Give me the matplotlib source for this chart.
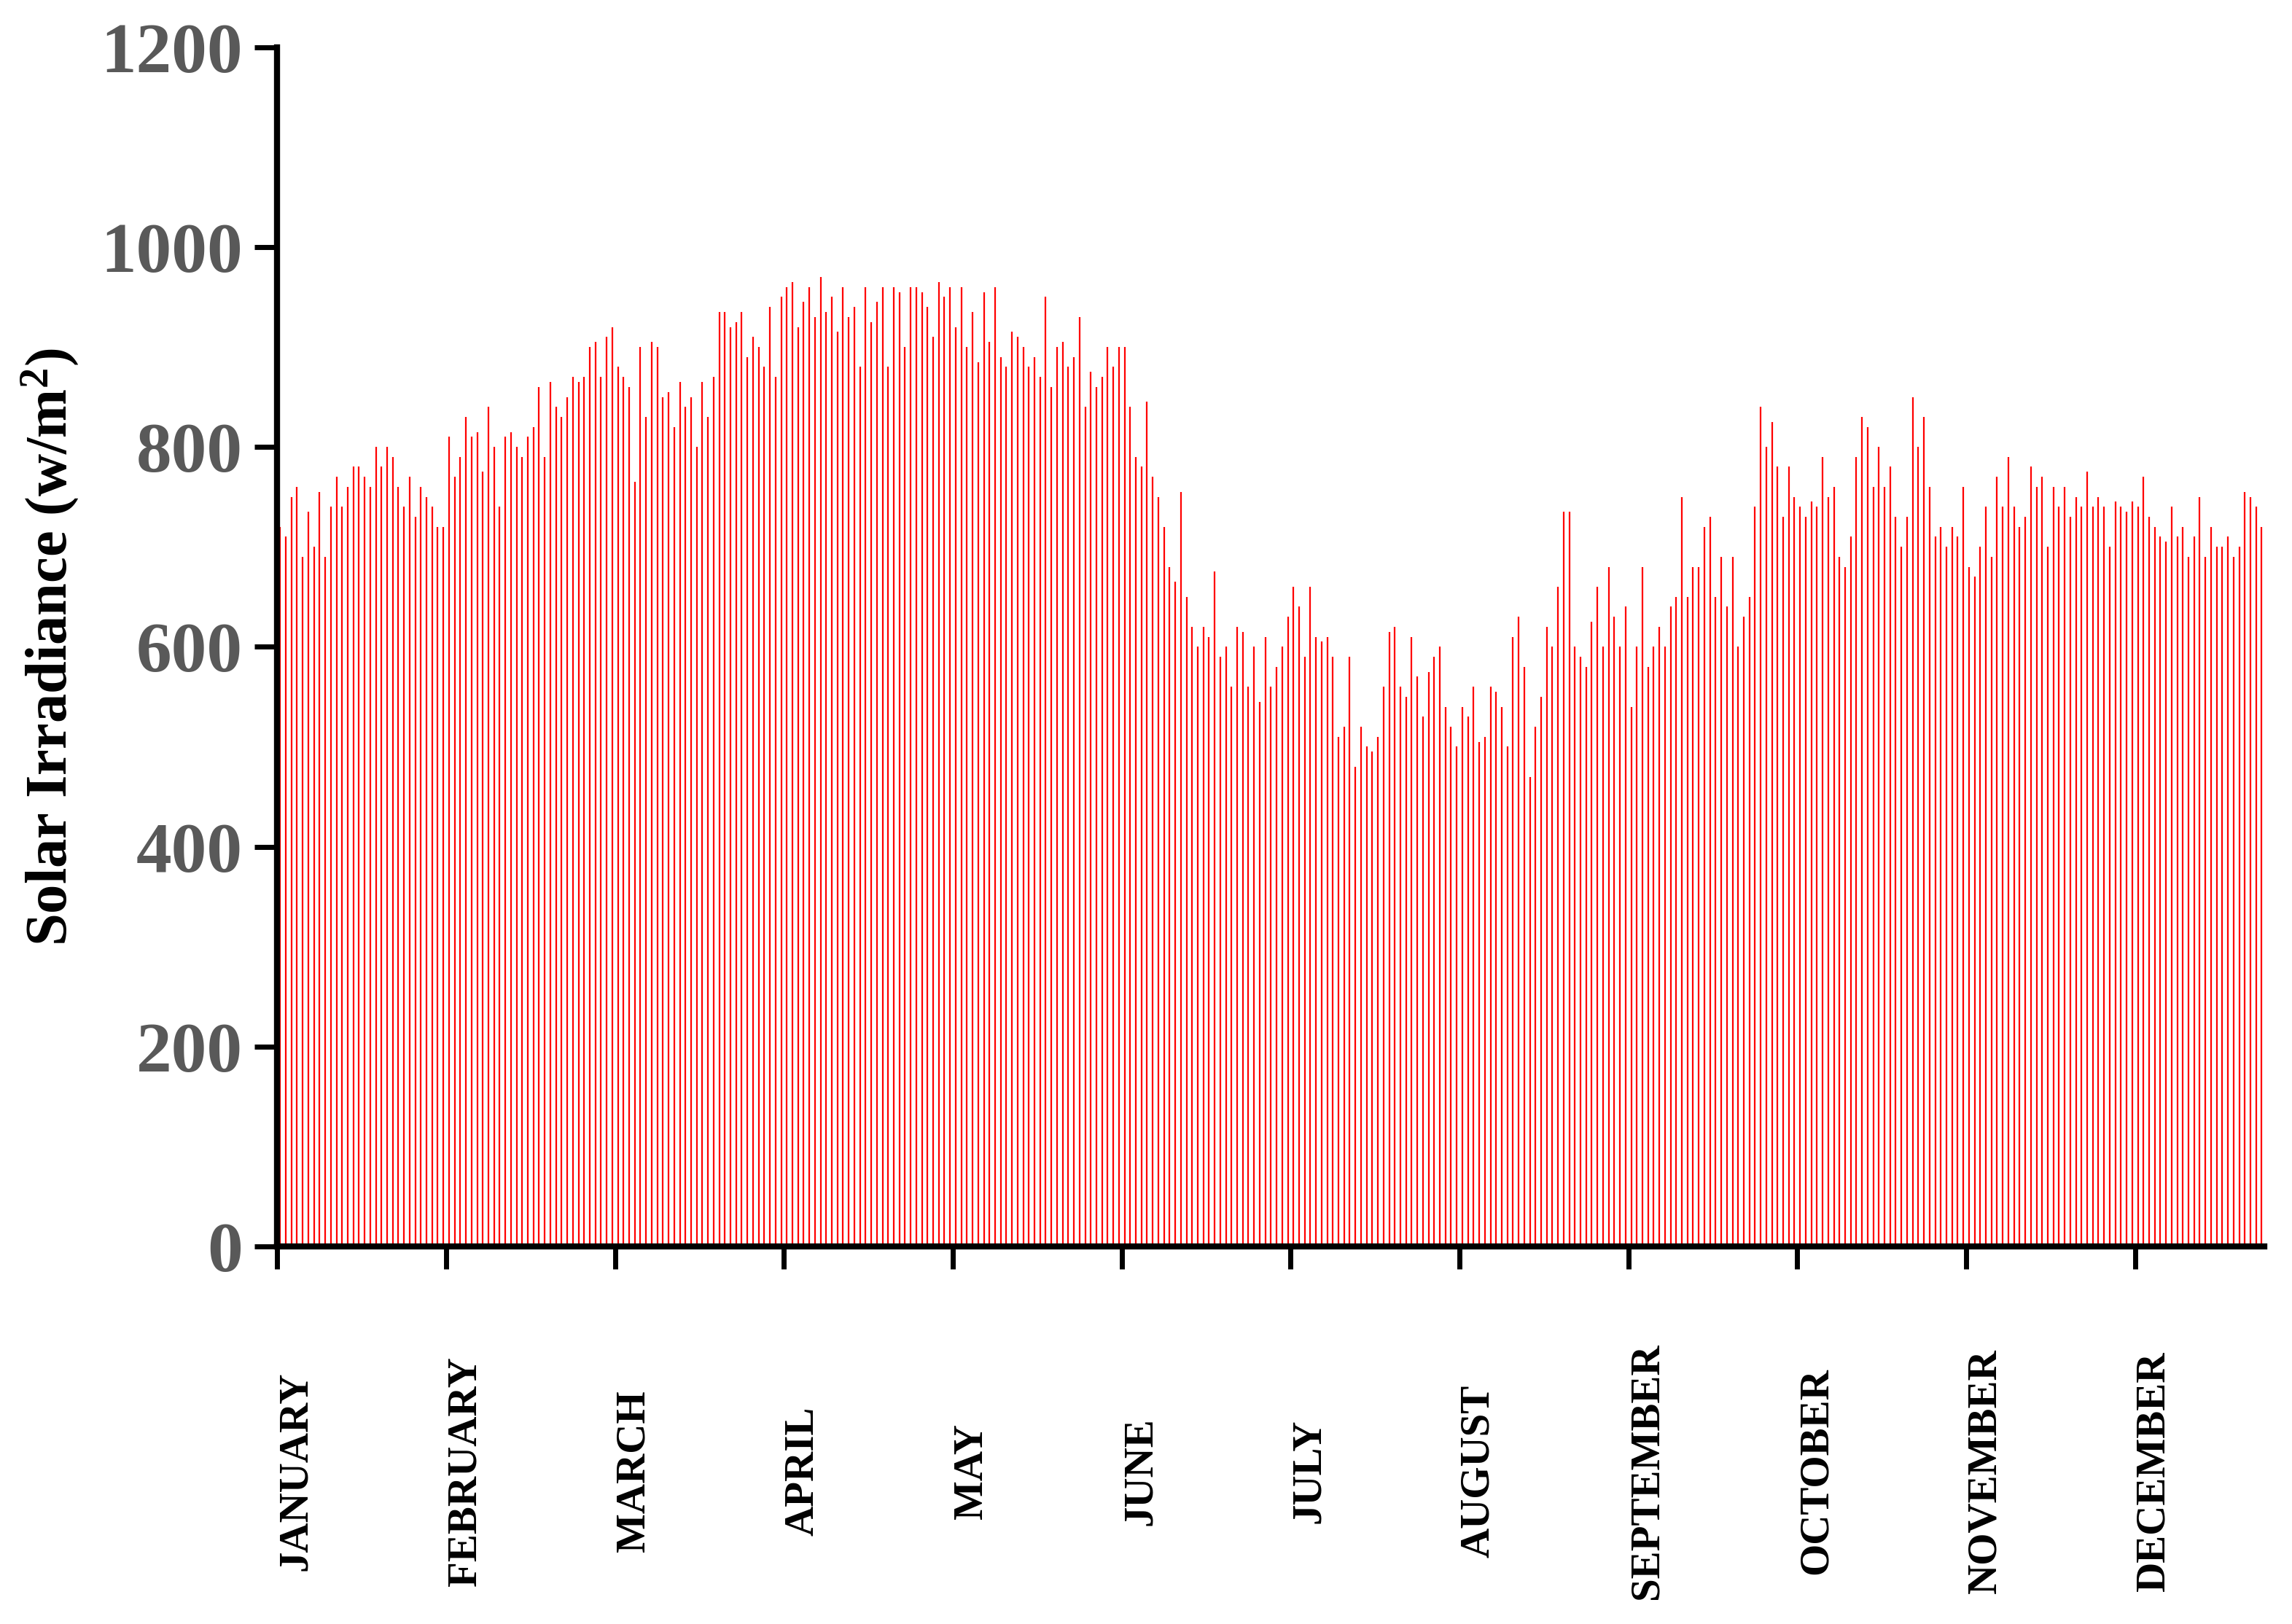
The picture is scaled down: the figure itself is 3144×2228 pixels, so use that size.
import matplotlib
matplotlib.use("Agg")
import matplotlib.pyplot as plt
import numpy as np

plt.rcParams['font.family'] = ['Liberation Serif', 'DejaVu Serif']
plt.rcParams['mathtext.fontset'] = 'custom'
plt.rcParams['mathtext.rm'] = 'Liberation Serif'
plt.rcParams['mathtext.bf'] = 'Liberation Serif:bold'

months = ["JANUARY","FEBRUARY","MARCH","APRIL","MAY","JUNE","JULY","AUGUST",
          "SEPTEMBER","OCTOBER","NOVEMBER","DECEMBER"]
jan = [720,710,750,760,690,735,700,755,690,740,770,740,760,780,780,770,760,800,780,800,790,760,740,770,730,760,750,740,720,720]
feb = [810,770,790,830,810,815,775,840,800,740,810,815,800,790,810,820,860,790,865,840,830,850,870,865,870,900,905,870,910,920]
mar = [880,870,860,765,900,830,905,900,850,855,820,865,840,850,800,865,830,870,935,935,920,925,935,890,910,900,880,940,870,950]
apr = [960,965,920,945,960,930,970,935,950,915,960,930,940,880,960,925,945,960,880,960,955,900,960,960,955,940,910,965,950,960]
may = [920,960,900,935,885,955,905,960,890,880,915,910,900,880,890,870,950,860,900,905,880,890,930,840,875,860,870,900,880,900]
jun = [900,840,790,780,845,770,750,720,680,665,755,650,620,600,620,610,675,590,600,560,620,615,560,600,545,610,560,580,600,630]
jul = [660,640,590,660,610,605,610,590,510,520,590,480,520,500,495,510,560,615,620,560,550,610,570,530,575,590,600,540,520,500]
aug = [540,530,560,505,510,560,555,540,500,610,630,580,470,520,550,620,600,660,735,735,600,590,580,625,660,600,680,630,600,640]
sep = [540,600,680,580,600,620,600,640,650,750,650,680,680,720,730,650,690,640,690,600,630,650,740,840,800,825,780,730,780,750]
oct_ = [740,730,745,740,790,750,760,690,680,710,790,830,820,760,800,760,780,730,700,730,850,800,830,760,710,720,700,720,710,760]
nov = [680,670,700,740,690,770,740,790,740,720,730,780,760,770,700,760,740,760,730,750,740,775,740,750,740,700,745,740,735,745]
dec = [740,770,730,720,710,705,740,710,720,690,710,750,690,720,700,700,710,690,700,755,750,740,720,735,740,700,730,690,690,690]
values = jan+feb+mar+apr+may+jun+jul+aug+sep+oct_+nov+dec
days = np.arange(len(values)) + 0.5
yticks = [0,200,400,600,800,1000,1200]

fig = plt.figure(figsize=(31.44,22.28), dpi=100)
ax = fig.add_axes([0.121,0.2325,0.867,0.7385])
ax.vlines(days, 0, values, colors="#ff0000", linewidth=1.6)
ax.set_xlim(0,353)
ax.set_ylim(0,1200)
ax.set_xticks([30*i for i in range(12)])
ax.set_xticklabels(months, rotation=90, va="center", ha="left",
                   fontsize=41, fontweight="bold")
ax.set_yticks(yticks)
ax.set_yticklabels([str(v) for v in yticks], fontsize=70, fontweight="bold",
                   color="#595959")
ax.tick_params(axis="x", length=22, width=5, pad=200, direction="out")
ax.tick_params(axis="y", length=22, width=5, pad=12, direction="out")
for s in ["top","right"]:
    ax.spines[s].set_visible(False)
ax.spines["left"].set_linewidth(6)
ax.spines["bottom"].set_linewidth(6)
ax.set_ylabel("Solar Irradiance (w/m$\\mathbf{^2}$)", fontsize=58, fontweight="bold",
              labelpad=20)
fig.savefig("out.png", dpi=100)
